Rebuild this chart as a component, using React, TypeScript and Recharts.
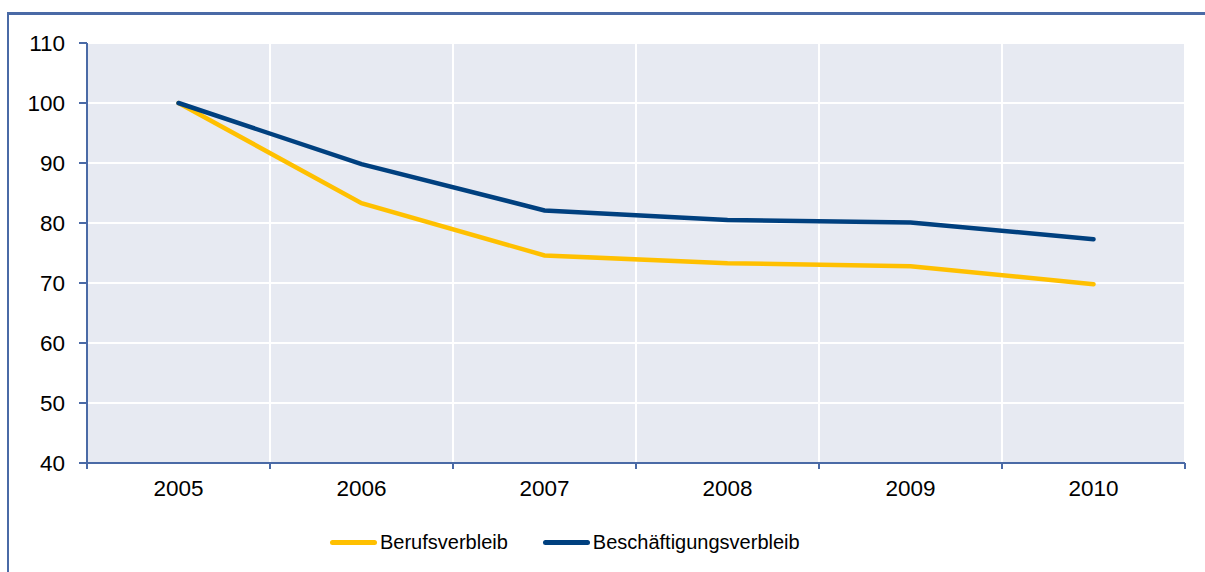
import { CartesianGrid, Legend, Line, LineChart, XAxis, YAxis } from "recharts";

const YEARS = ["2005", "2006", "2007", "2008", "2009", "2010"];
const BERUFSVERBLEIB = [100, 83.3, 74.6, 73.3, 72.8, 69.8];
const BESCHAEFTIGUNGSVERBLEIB = [100, 89.8, 82.1, 80.5, 80.1, 77.3];
const Y_TICKS = [40, 50, 60, 70, 80, 90, 100, 110];

const FONT = '"Liberation Sans", Arial, sans-serif';
const AXIS_COLOR = "#4a6aa6";
const YELLOW = "#ffc000";
const BLUE = "#00407f";

// each year sits in the middle of its own slot, slot borders get the grid lines
const data = YEARS.map((year, i) => ({
  year,
  pos: i + 0.5,
  Berufsverbleib: BERUFSVERBLEIB[i],
  Beschäftigungsverbleib: BESCHAEFTIGUNGSVERBLEIB[i],
}));
const BOUNDARIES = YEARS.map((_, i) => i).concat(YEARS.length);
const X_TICKS = BOUNDARIES.concat(data.map((d) => d.pos)).sort((a, b) => a - b);

type TickProps = { x: number; y: number; payload: { value: number } };

function XTick({ x, y, payload }: TickProps) {
  const v = payload.value;
  if (Number.isInteger(v)) {
    return <line x1={x} x2={x} y1={y} y2={y + 6} stroke={AXIS_COLOR} strokeWidth={2} />;
  }
  return (
    <text x={x} y={y + 17} dy="0.71em" textAnchor="middle" fill="#000" fontSize={22.5} fontFamily={FONT}>
      {YEARS[v - 0.5]}
    </text>
  );
}

type LegendItem = { value: string; color?: string };

function renderLegend(props: { payload?: LegendItem[] }) {
  const items = props.payload ?? [];
  return (
    <div style={{ display: "flex", alignItems: "center", height: 26, gap: 35, fontFamily: FONT, fontSize: 20 }}>
      {items.map((item) => (
        <span key={item.value} style={{ display: "flex", alignItems: "center", gap: 3, color: "#000" }}>
          <span style={{ display: "inline-block", width: 47, height: 5, borderRadius: 3, background: item.color }} />
          {item.value}
        </span>
      ))}
    </div>
  );
}

export default function App() {
  return (
    <div style={{ position: "absolute", left: 0, top: 0, width: 1205, height: 572, overflow: "hidden", background: "#fff" }}>
      <div
        style={{
          position: "absolute",
          left: 7,
          top: 12,
          width: 1400,
          height: 800,
          borderLeft: `2px solid ${AXIS_COLOR}`,
          borderTop: `3px solid ${AXIS_COLOR}`,
        }}
      />
      <div style={{ position: "absolute", left: 0, top: 0 }}>
        <LineChart width={1205} height={572} data={data} margin={{ top: 43, right: 20, left: 0, bottom: 23 }}>
          <CartesianGrid
            fill="#e7eaf2"
            stroke="#ffffff"
            strokeWidth={2}
            verticalCoordinatesGenerator={({ offset }: { offset: { left: number; width: number } }) =>
              BOUNDARIES.map((b) => offset.left + (offset.width * b) / YEARS.length)
            }
          />
          <XAxis
            dataKey="pos"
            type="number"
            domain={[0, YEARS.length]}
            allowDataOverflow
            ticks={X_TICKS}
            interval={0}
            height={60}
            tickSize={0}
            tickMargin={0}
            tickLine={false}
            tick={XTick as never}
            axisLine={{ stroke: AXIS_COLOR, strokeWidth: 2 }}
          />
          <YAxis
            domain={[40, 110]}
            ticks={Y_TICKS}
            width={87}
            tickSize={8}
            tickMargin={14}
            axisLine={{ stroke: AXIS_COLOR, strokeWidth: 2 }}
            tickLine={{ stroke: AXIS_COLOR, strokeWidth: 2 }}
            tick={{ fill: "#000", fontSize: 22.5, fontFamily: FONT }}
          />
          <Legend
            verticalAlign="bottom"
            content={renderLegend as never}
            wrapperStyle={{ left: 330, top: 529, width: 500, height: 26 }}
          />
          <Line
            type="linear"
            dataKey="Berufsverbleib"
            stroke={YELLOW}
            strokeWidth={4.5}
            strokeLinecap="round"
            dot={false}
            isAnimationActive={false}
          />
          <Line
            type="linear"
            dataKey="Beschäftigungsverbleib"
            stroke={BLUE}
            strokeWidth={4.5}
            strokeLinecap="round"
            dot={false}
            isAnimationActive={false}
          />
        </LineChart>
      </div>
    </div>
  );
}
